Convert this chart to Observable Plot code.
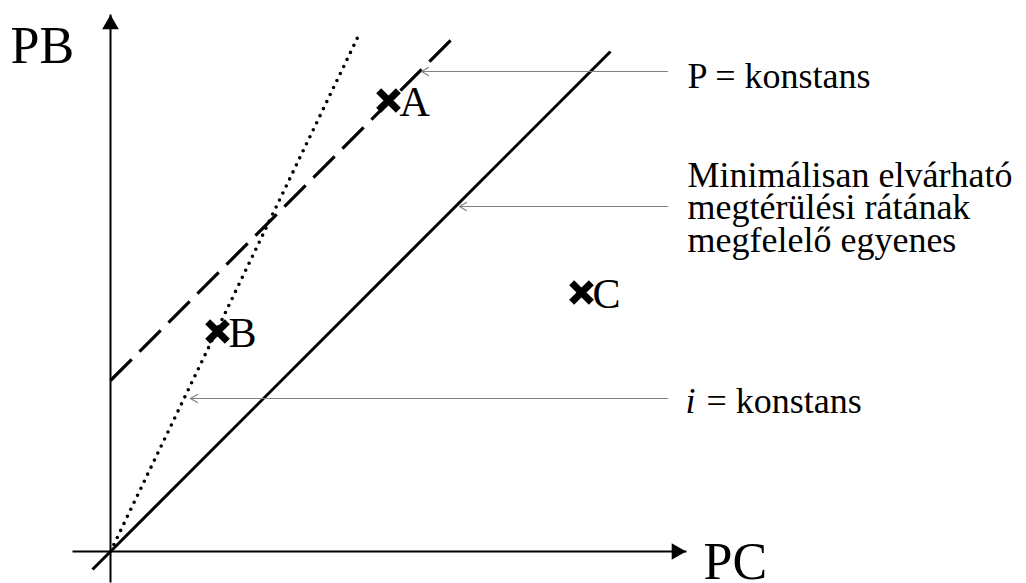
<!DOCTYPE html>
<html>
<head>
<meta charset="utf-8">
<script src="https://cdn.jsdelivr.net/npm/d3@7"></script>
<script src="https://cdn.jsdelivr.net/npm/@observablehq/plot@0.6"></script>
<style>
  html, body { margin: 0; padding: 0; background: #fff; }
  svg { display: block; }
  svg text { font-family: "Liberation Serif", "Times New Roman", serif !important; }
</style>
</head>
<body>
<div id="chart"></div>
<script>
// ---- data (PC on x, PB on y; arbitrary units) ----
const pointLabels = ["A", "B", "C"];
const pointPC = [5.56, 2.14, 9.42];
const pointPB = [9.02, 4.40, 5.18];

// straight lines: PB = slope * PC + intercept, drawn between PC from/to
const lineNames = ["required", "pConst", "iConst"];
const lineSlope = [1.0, 1.0, 2.08];
const lineIntercept = [0, 3.42, 0];
const lineFrom = [-0.36, 0, 0];
const lineTo = [10.0, 6.88, 4.94];

// axis extents
const axisX = [-0.76, 11.52];
const axisY = [-0.62, 10.74];
const axisTitles = ["PC", "PB"];

// annotations: arrow from label (x start) to line tip, at PB level
const annTipPC = [6.22, 6.98, 1.60];
const annPB = [9.60, 6.90, 3.06];
const annStartPC = 11.14;
const annTexts = ["P = konstans", "Minimálisan elvárható", "megtérülési rátának", "megfelelő egyenes", "= konstans"];
const annTextPB = [9.28, 7.30, 6.65, 6.00, 2.78];

// ---- build tables ----
const points = pointLabels.map((l, i) => ({label: l, pc: pointPC[i], pb: pointPB[i]}));
const segs = lineNames.map((n, i) => ({
  name: n,
  x1: lineFrom[i], y1: lineSlope[i] * lineFrom[i] + lineIntercept[i],
  x2: lineTo[i], y2: lineSlope[i] * lineTo[i] + lineIntercept[i]
}));
const anns = annTipPC.map((t, i) => ({x1: annStartPC, x2: t, y: annPB[i]}));
const labelRows = annTexts.slice(0, 4).map((t, i) => ({t, y: annTextPB[i]}));

const font = "Liberation Serif";
const T = {fontFamily: font, textAnchor: "start", lineAnchor: "bottom", fill: "#000"};

const chart = Plot.plot({
  width: 1026,
  height: 583,
  margin: 0,
  x: {domain: [0, 10], range: [110, 610], axis: null},
  y: {domain: [0, 10], range: [551, 51], axis: null},
  style: {fontFamily: font, background: "#fff", color: "#000", overflow: "visible"},
  marks: [
    // axes
    Plot.link([{}], {x1: axisX[0], x2: axisX[1], y1: 0, y2: 0, stroke: "#000", strokeWidth: 2}),
    Plot.link([{}], {x1: 0, x2: 0, y1: axisY[0], y2: axisY[1], stroke: "#000", strokeWidth: 2}),
    Plot.dot([{}], {x: 0, y: axisY[1] - 0.2, symbol: "triangle", r: 6.2, fill: "#000", stroke: "none"}),
    Plot.dot([{}], {x: axisX[1] - 0.2, y: 0, symbol: "triangle", r: 6.2, fill: "#000", stroke: "none", rotate: 90}),
    Plot.text([axisTitles[0]], {...T, x: 11.86, y: -0.54, text: d => d, fontSize: 52}),
    Plot.text([axisTitles[1]], {...T, x: -2.0, y: 9.78, text: d => d, fontSize: 52}),

    // lines
    Plot.link(segs.filter(d => d.name === "required"), {x1: "x1", y1: "y1", x2: "x2", y2: "y2", stroke: "#000", strokeWidth: 3}),
    Plot.link(segs.filter(d => d.name === "pConst"), {x1: "x1", y1: "y1", x2: "x2", y2: "y2", stroke: "#000", strokeWidth: 3.2, strokeDasharray: "30 11"}),
    Plot.link(segs.filter(d => d.name === "iConst"), {x1: "x1", y1: "y1", x2: "x2", y2: "y2", stroke: "#000", strokeWidth: 3.6, strokeDasharray: "0 7.8", strokeLinecap: "round"}),

    // annotation arrows
    Plot.arrow(anns, {x1: "x1", x2: "x2", y1: "y", y2: "y", stroke: "#808080", strokeWidth: 1.2, headLength: 10, headAngle: 60}),

    // annotation texts
    Plot.text(labelRows, {...T, x: 11.54, y: "y", text: "t", fontSize: 36}),
    Plot.text(["i"], {...T, x: 11.50, y: annTextPB[4], text: d => d, fontSize: 36, fontStyle: "italic"}),
    Plot.text([annTexts[4]], {...T, x: 11.92, y: annTextPB[4], text: d => d, fontSize: 36}),

    // points
    Plot.dot(points, {x: "pc", y: "pb", symbol: "times", r: 9, stroke: "#000", strokeWidth: 7, fill: "none"}),
    Plot.text(points, {...T, x: "pc", y: "pb", text: "label", fontSize: 42, dx: 11, dy: 15})
  ]
});
document.getElementById("chart").appendChild(chart);
</script>
</body>
</html>
